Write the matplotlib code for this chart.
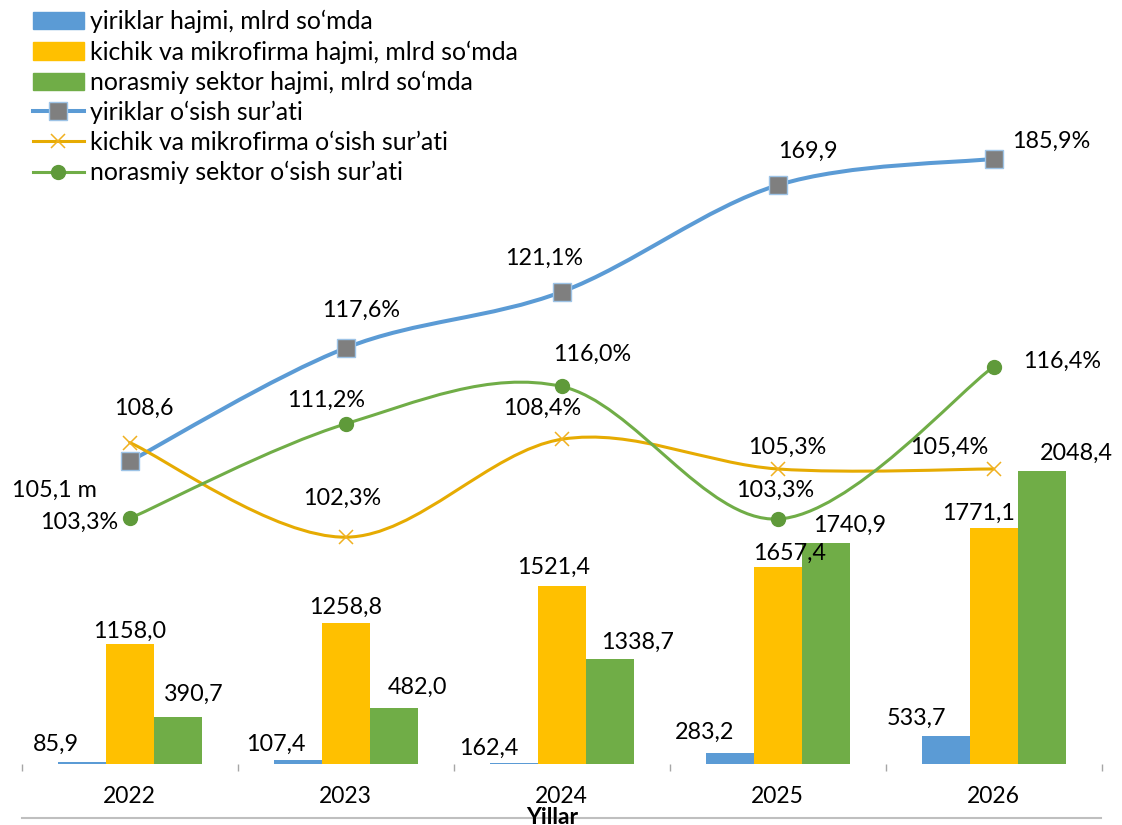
import numpy as np
import matplotlib.pyplot as plt
from matplotlib.path import Path
from matplotlib.patches import PathPatch, Patch
from matplotlib.lines import Line2D

plt.rcParams['font.family'] = ['Lato', 'DejaVu Sans']

years = ['2022', '2023', '2024', '2025', '2026']

# bar heights as drawn in the picture (hidden primary axis)
yiriklar_bar = [14, 28, 10, 80, 196]
kichik_bar = [839, 986, 1244, 1377, 1650]
norasmiy_bar = [331, 391, 734, 1545, 2048]

yiriklar_bar_labels = ['85,9', '107,4', '162,4', '283,2', '533,7']
kichik_bar_labels = ['1158,0', '1258,8', '1521,4', '1657,4', '1771,1']
norasmiy_bar_labels = ['390,7', '482,0', '1338,7', '1740,9', '2048,4']

# growth-rate lines as drawn (hidden secondary axis, %)
yiriklar_rate = [108.5, 118.8, 123.9, 133.6, 136.0]
kichik_rate = [110.2, 101.6, 110.5, 107.8, 107.8]
norasmiy_rate = [103.3, 111.9, 115.3, 103.25, 117.1]

yiriklar_rate_labels = ['105,1 m', '117,6%', '121,1%', '169,9', '185,9%']
kichik_rate_labels = ['108,6', '102,3%', '108,4%', '105,3%', '105,4%']
norasmiy_rate_labels = ['103,3%', '111,2%', '116,0%', '103,3%', '116,4%']

series_names = [
    'yiriklar hajmi, mlrd so\u2018mda',
    'kichik va mikrofirma hajmi, mlrd so\u2018mda',
    'norasmiy sektor hajmi, mlrd so\u2018mda',
    'yiriklar o\u2018sish sur\u2019ati',
    'kichik va mikrofirma o\u2018sish sur\u2019ati',
    'norasmiy sektor o\u2018sish sur\u2019ati',
]

BLUE = '#5B9BD5'
YELLOW = '#FFC000'
GREEN = '#70AD47'
YLINE = '#E6AB02'

# label offsets in pixels (dx, dy), placement only
bar_off = {
    'y': [(-26, 18), (-22, 16), (-25, 14), (-25, 20), (-29, 18)],
    'k': [(0, 13), (0, 16), (-8, 19), (12, 14), (-15, 15)],
    'n': [(16, 22), (24, 21), (28, 17), (24, 18), (35, 18)],
}
rate_off = {
    'y': [(-75, -29), (15, 38), (-18, 34), (30, 34), (58, 17)],
    'k': [(14, 34), (-4, 39), (-20, 31), (10, 22), (-44, 22)],
    'n': [(-51, -4), (-20, 24), (30, 32), (-3, 29), (68, 5)],
}


def smooth_path(xs, ys):
    # Excel-like smoothed line (Catmull-Rom as cubic Bezier)
    pts = np.column_stack([xs, ys]).astype(float)
    ext = np.vstack([pts[0], pts, pts[-1]])
    verts = [pts[0]]
    codes = [Path.MOVETO]
    for i in range(len(pts) - 1):
        p0, p1, p2, p3 = ext[i], ext[i + 1], ext[i + 2], ext[i + 3]
        verts += [p1 + (p2 - p0) / 6, p2 - (p3 - p1) / 6, p2]
        codes += [Path.CURVE4] * 3
    return Path(verts, codes)


W, H = 1122, 825
fig = plt.figure(figsize=(W / 100, H / 100), dpi=100)
ax = fig.add_axes([21.7 / W, 1 - 764 / H, 1080 / W, 750 / H])
ax.set_xlim(-0.5, 4.5)
ax.set_ylim(0, 750 * 6.991)
ax2 = ax.twinx()
ax2.set_ylim(80.98, 149.16)

for a in (ax, ax2):
    for s in a.spines.values():
        s.set_visible(False)
    a.set_yticks([])

x = np.arange(len(years))
bw = 48 / 216
ax.bar(x - bw, yiriklar_bar, bw, color=BLUE)
ax.bar(x, kichik_bar, bw, color=YELLOW)
ax.bar(x + bw, norasmiy_bar, bw, color=GREEN)

ax.set_xticks(x, years)
ax.set_xticks(np.arange(-0.5, 5, 1), minor=True)
ax.tick_params(axis='x', which='major', length=0, pad=15.5, labelsize=16.5)
ax.tick_params(axis='x', which='minor', length=5, width=1, color='#A6A6A6')

# growth lines
line_specs = [
    (yiriklar_rate, BLUE, 2.9, dict(marker='s', ms=13, mfc='#7F7F7F', mec='#9DC3E6', mew=1)),
    (kichik_rate, YLINE, 2.2, dict(marker='x', ms=10, mec='#F0B020', mew=1.1)),
    (norasmiy_rate, GREEN, 2.2, dict(marker='o', ms=10, mfc='#5F9A3A', mec='#5F9A3A')),
]
for vals, col, lw, mk in line_specs:
    ax2.add_patch(PathPatch(smooth_path(x, vals), fill=False, edgecolor=col, lw=lw,
                            capstyle='round', joinstyle='round'))
    ax2.plot(x, vals, ls='none', **mk)

# data labels
lab_kw = dict(textcoords='offset pixels', ha='center', va='center', fontsize=16.8, color='black')
for vals, labels, offs, dx in [(yiriklar_bar, yiriklar_bar_labels, bar_off['y'], -bw),
                               (kichik_bar, kichik_bar_labels, bar_off['k'], 0),
                               (norasmiy_bar, norasmiy_bar_labels, bar_off['n'], bw)]:
    for i, (v, t) in enumerate(zip(vals, labels)):
        ax2.annotate(t, xy=(i + dx, v), xycoords=ax.transData, xytext=offs[i], **lab_kw)

for vals, labels, offs in [(yiriklar_rate, yiriklar_rate_labels, rate_off['y']),
                           (kichik_rate, kichik_rate_labels, rate_off['k']),
                           (norasmiy_rate, norasmiy_rate_labels, rate_off['n'])]:
    for i, (v, t) in enumerate(zip(vals, labels)):
        ax2.annotate(t, xy=(i, v), xytext=offs[i], **lab_kw)

# legend
handles = [
    Patch(color=BLUE), Patch(color=YELLOW), Patch(color=GREEN),
    Line2D([], [], color=BLUE, lw=2.9, **line_specs[0][3]),
    Line2D([], [], color=YLINE, lw=2.2, **line_specs[1][3]),
    Line2D([], [], color=GREEN, lw=2.2, **line_specs[2][3]),
]
fig.legend(handles, series_names, loc='upper left', bbox_to_anchor=(33 / W, 1 - 10 / H),
           frameon=False, fontsize=17.8, handlelength=2.05, handletextpad=0.25,
           labelspacing=0.28, borderpad=0, borderaxespad=0)

# bottom rule and axis title
fig.add_artist(Line2D([21.7 / W, 1101 / W], [1 - 818 / H] * 2, color='#BFBFBF', lw=1.5,
                      transform=fig.transFigure))
fig.text(552 / W, 1 - 824.5 / H, 'Yillar', ha='center', va='baseline', fontsize=16.5, fontweight='bold')

fig.savefig('out.png', dpi=100)
